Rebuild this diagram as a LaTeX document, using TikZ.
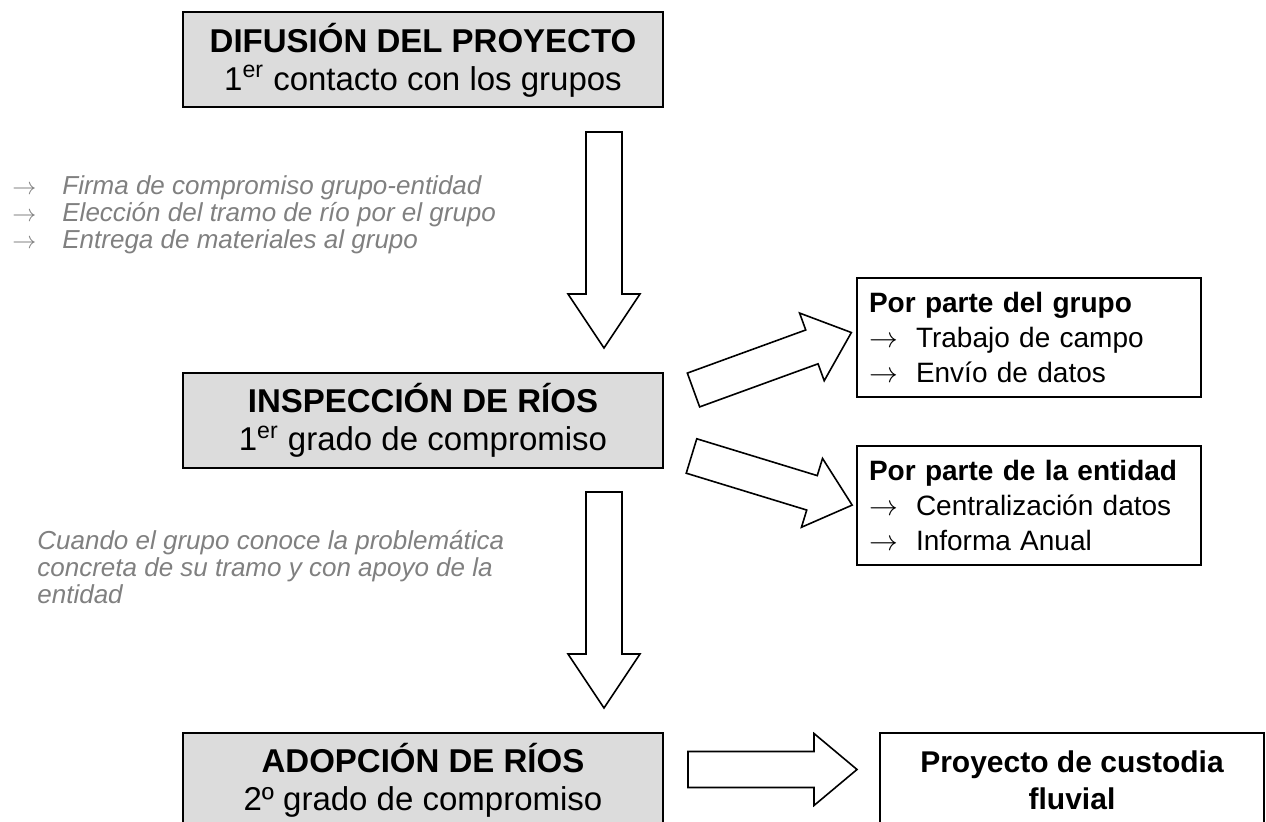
\documentclass[tikz,border=0pt]{standalone}
\usepackage{fontspec}
\setmainfont{Liberation Sans}
\usetikzlibrary{positioning}
\definecolor{boxgray}{HTML}{DCDCDC}
\definecolor{notegray}{HTML}{808080}
\newcommand{\blockarrow}[4]{%
  \draw[bigarrow,shift={#1},rotate=#2] (0,-18) -- ({#3-#4},-18) -- ({#3-#4},-36) -- (#3,0) -- ({#3-#4},36) -- ({#3-#4},18) -- (0,18) -- cycle;}
\begin{document}
\begin{tikzpicture}[x=0.5pt,y=-0.5pt,inner sep=0pt,
mainbox/.style={draw,fill=boxgray,line width=1pt,minimum width=240pt,minimum height=47.5pt,align=center,font=\fontsize{16.5}{19}\selectfont},
finalbox/.style={draw,line width=1pt,minimum width=192pt,minimum height=47.5pt,align=center,font=\fontsize{15}{18.5}\selectfont\bfseries},
sidebox/.style={draw,line width=1pt,anchor=north west,minimum height=59.5pt,text width=160pt,inner xsep=6pt,align=left,font=\fontsize{14}{17.5}\selectfont},
note/.style={text=notegray,anchor=base west,font=\fontsize{13}{13}\selectfont\itshape},
bigarrow/.style={draw,line width=0.8pt,fill=white,line join=miter}]
\useasboundingbox (0,0) rectangle (1266,822);
\clip (0,0) rectangle (1266,822);
\draw (423,60) node[mainbox] (difusion) {\textbf{DIFUSIÓN DEL PROYECTO}\\1\textsuperscript{er} contacto con los grupos};
\draw (423,420.5) node[mainbox] (inspeccion) {\textbf{INSPECCIÓN DE RÍOS}\\1\textsuperscript{er} grado de compromiso};
\draw (423,780.5) node[mainbox] (adopcion) {\textbf{ADOPCIÓN DE RÍOS}\\2º grado de compromiso};
\draw (1072,780.5) node[finalbox] (custodia) {Proyecto de custodia\\fluvial};
\draw (856,277) node[sidebox] (grupo) {\textbf{Por parte del grupo}\\\makebox[23.5pt][l]{$\rightarrow$}Trabajo de campo\\\makebox[23.5pt][l]{$\rightarrow$}Envío de datos};
\draw (856,445) node[sidebox] (entidad) {\mbox{\textbf{Por parte de la entidad}}\\\makebox[23.5pt][l]{$\rightarrow$}Centralización datos\\\makebox[23.5pt][l]{$\rightarrow$}Informa Anual};
\draw (12,195) node[note] (pasos) {\begin{tabular}[t]{@{}p{25pt}@{}l@{}}$\rightarrow$ & Firma de compromiso grupo-entidad\\$\rightarrow$ & Elección del tramo de río por el grupo\\$\rightarrow$ & Entrega de materiales al grupo\end{tabular}};
\draw (37,550) node[note] (cuando) {\begin{tabular}[t]{@{}l@{}}Cuando el grupo conoce la problemática\\concreta de su tramo y con apoyo de la\\entidad\end{tabular}};
\blockarrow{(604,132)}{-90}{216}{54}
\blockarrow{(604,492)}{-90}{216}{54}
\blockarrow{(693.5,390)}{20}{168}{42}
\blockarrow{(691.5,456)}{-17}{168}{42}
\blockarrow{(688,769.5)}{0}{169}{43}
\end{tikzpicture}
\end{document}
